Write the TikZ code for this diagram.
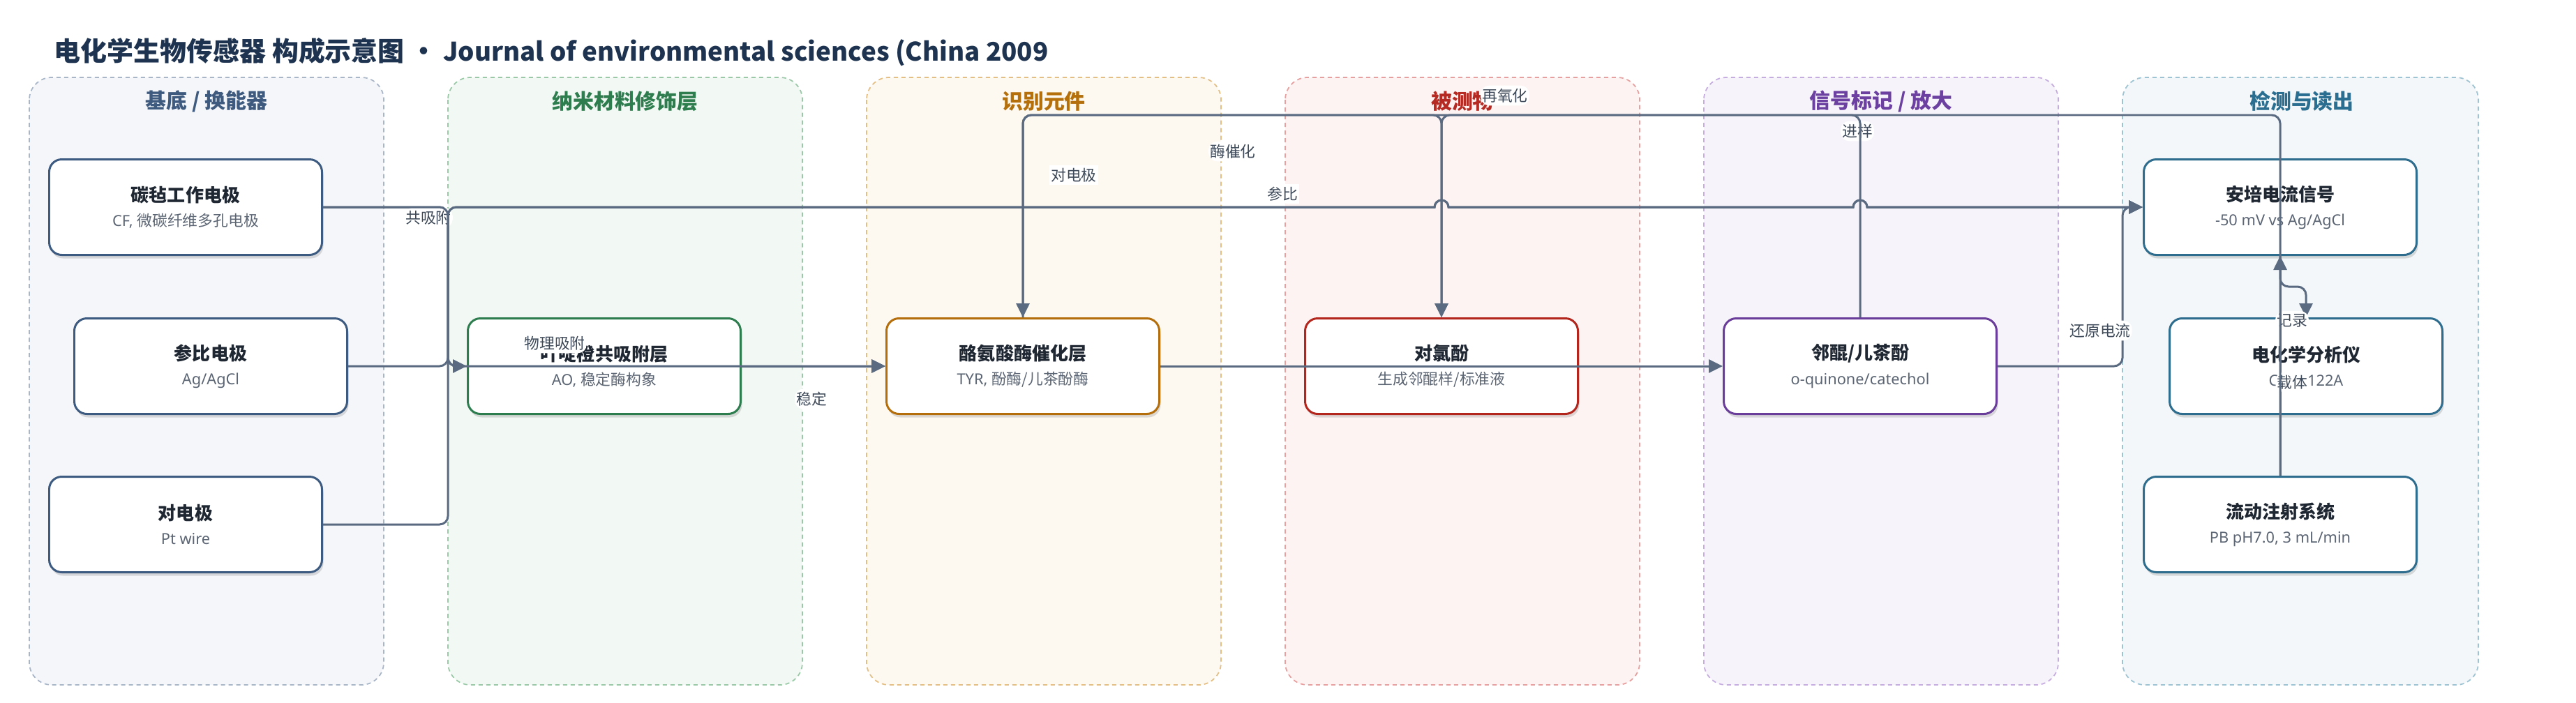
\documentclass[tikz,border=0pt]{standalone}
\usepackage{fontspec}
\setmainfont{Noto Sans CJK SC}
\newfontfamily\latf{Noto Sans}
\usetikzlibrary{arrows.meta,calc,shadows}

\definecolor{edgec}{HTML}{5A6A80}
\definecolor{lblc}{HTML}{3E4A59}
\definecolor{titlec}{HTML}{1E3350}
\definecolor{headc}{HTML}{1F2733}
\definecolor{subc}{HTML}{5B6573}
% panel colours
\definecolor{subFill}{HTML}{F4F6FA}  \definecolor{subLine}{HTML}{A9B6C8}  \definecolor{subText}{HTML}{3E5A7E}  \definecolor{subDk}{HTML}{3D5A80}
\definecolor{nanoFill}{HTML}{F2F8F4} \definecolor{nanoLine}{HTML}{9BC9A8} \definecolor{nanoText}{HTML}{2E7D4E} \definecolor{nanoDk}{HTML}{2E7D4F}
\definecolor{recFill}{HTML}{FDF8F0}  \definecolor{recLine}{HTML}{E3BF85}  \definecolor{recText}{HTML}{B5700C}  \definecolor{recDk}{HTML}{B46E0C}
\definecolor{anaFill}{HTML}{FDF3F2}  \definecolor{anaLine}{HTML}{E6A0A0}  \definecolor{anaText}{HTML}{B52A22}  \definecolor{anaDk}{HTML}{B3261E}
\definecolor{sigFill}{HTML}{F6F3FA}  \definecolor{sigLine}{HTML}{C6ADDF}  \definecolor{sigText}{HTML}{6B40A0}  \definecolor{sigDk}{HTML}{6A3D9A}
\definecolor{detFill}{HTML}{F3F7F9}  \definecolor{detLine}{HTML}{9EC3D2}  \definecolor{detText}{HTML}{2A6F91}  \definecolor{detDk}{HTML}{2E6D8E}

\tikzset{
  panel/.style={draw=#1Line, fill=#1Fill, line width=0.5pt, dash pattern=on 0.06cm off 0.05cm, rounded corners=0.32cm},
  head/.style={text=#1Text, font=\bfseries\fontsize{8.5pt}{10pt}\selectfont},
  box/.style={draw=#1, fill=white, line width=0.85pt, rounded corners=0.18cm,
    minimum width=3.91cm, minimum height=1.37cm, align=center, inner sep=0pt,
    text=headc, font=\fontsize{6.2pt}{10pt}\selectfont,
    drop shadow={shadow xshift=0.02cm, shadow yshift=-0.05cm, opacity=0.13, fill=black}},
  link/.style={draw=edgec, line width=0.85pt, rounded corners=0.12cm, -{Triangle[length=0.2cm,width=0.19cm]}},
  lbl/.style={fill=white, text=lblc, font=\fontsize{6.2pt}{7pt}\selectfont, inner xsep=0.6pt, inner ysep=1.2pt}
}
\newcommand{\bxt}[2]{{\bfseries\fontsize{7.4pt}{10pt}\selectfont #1}\\{\color{subc}#2}}

\begin{document}
\begin{tikzpicture}
  \useasboundingbox (0,0) rectangle (36.92,-10.07);
  % columns
  \draw[panel=sub]  (0.42,-1.11) rectangle (5.50,-9.82);
  \draw[panel=nano] (6.42,-1.11) rectangle (11.50,-9.82);
  \draw[panel=rec]  (12.42,-1.11) rectangle (17.50,-9.82);
  \draw[panel=ana]  (18.42,-1.11) rectangle (23.50,-9.82);
  \draw[panel=sig]  (24.42,-1.11) rectangle (29.50,-9.82);
  \draw[panel=det]  (30.42,-1.11) rectangle (35.52,-9.82);
  \node[head=sub]  (h-sub)  at (2.96,-1.45) {基底 / 换能器};
  \node[head=nano] (h-nano) at (8.96,-1.45) {纳米材料修饰层};
  \node[head=rec]  (h-rec)  at (14.96,-1.45) {识别元件};
  \node[head=ana]  (h-ana)  at (20.96,-1.45) {被测物};
  \node[head=sig]  (h-sig)  at (26.96,-1.45) {信号标记 / 放大};
  \node[head=det]  (h-det)  at (32.99,-1.45) {检测与读出};
  \node[anchor=west, inner sep=0pt, text=titlec, font=\bfseries\fontsize{10.8pt}{12pt}\selectfont] (title) at (0.77,-0.75)
    {电化学生物传感器 构成示意图 · {\fontsize{10.45pt}{12pt}\selectfont Journal of environmental sciences (China 2009}};

  % components
  \node[box=subDk]  (cf)  at (2.66,-2.97)  {\bxt{碳毡工作电极}{{\latf CF, }微碳纤维多孔电极}};
  \node[box=subDk]  (ref) at (3.02,-5.25)  {\bxt{参比电极}{\latf Ag/AgCl}};
  \node[box=subDk]  (ce)  at (2.66,-7.52)  {\bxt{对电极}{\latf Pt wire}};
  \node[box=nanoDk] (ao)  at (8.66,-5.25)  {\bxt{吖啶橙共吸附层}{{\latf AO, }稳定酶构象}};
  \node[box=recDk]  (tyr) at (14.66,-5.25) {\bxt{酪氨酸酶催化层}{{\latf TYR, }酚酶/儿茶酚酶}};
  \node[box=anaDk]  (pcp) at (20.66,-5.25) {\bxt{对氯酚}{生成邻醌样/标准液}};
  \node[box=sigDk]  (oq)  at (26.66,-5.25) {\bxt{邻醌/儿茶酚}{\latf o-quinone/catechol}};
  \node[box=detDk]  (amp) at (32.68,-2.97) {\bxt{安培电流信号}{\latf -50 mV vs Ag/AgCl}};
  \node[box=detDk]  (ele) at (33.05,-5.25) {\bxt{电化学分析仪}{\latf CHI 1122A}};
  \node[box=detDk]  (fia) at (32.68,-7.52) {\bxt{流动注射系统}{\latf PB pH7.0, 3 mL/min}};

  % routing helpers
  \coordinate (busL) at (6.42,0);
  \coordinate (busR) at (30.42,0);
  \coordinate (topY) at (0,-1.65);
  \coordinate (hopA) at ($(pcp.north |- amp.west)+(-0.1,0)$);
  \coordinate (hopB) at ($(oq.north |- amp.west)+(-0.1,0)$);
  \coordinate (recY) at ($(amp.south)!.5!(ele.north)$);

  % connections
  \draw[link] (cf.east) -| (busL |- ao.west) -- (ao.west) node[lbl] (l-coad) at (6.14,-3.12) {共吸附};
  \draw[link] (cf.east) -| (busL |- tyr.west) -- (tyr.west) node[lbl] (l-phys) at (7.95,-4.92) {物理吸附};
  \draw[link] (ref.east) -| (busL |- amp.west) [sharp corners] -- (hopA) arc[start angle=180, end angle=0, radius=0.1]
    -- (hopB) arc[start angle=180, end angle=0, radius=0.1] -- (amp.west) node[lbl] (l-ref) at (18.38,-2.78) {参比};
  \draw[link] (ce.east) -| (busL |- amp.west) [sharp corners] -- (hopA) arc[start angle=180, end angle=0, radius=0.1]
    -- (hopB) arc[start angle=180, end angle=0, radius=0.1] -- (amp.west) node[lbl] (l-ce) at (15.39,-2.51) {对电极};
  \draw[link] (ao.east) -- (tyr.west) node[lbl] (l-stab) at (11.63,-5.72) {稳定};
  \draw[link] (tyr.east) -- (oq.west);
  \draw[link] (tyr.north) |- (topY -| pcp.north) -- (pcp.north) node[lbl] (l-cat) at (17.67,-2.17) {酶催化};
  \draw[link] (oq.east) -| (busR |- amp.west) -- (amp.west) node[lbl] (l-red) at (30.10,-4.74) {还原电流};
  \draw[link] (amp.south) -- (amp.south |- recY) -- (ele.north |- recY) -- (ele.north) node[lbl] (l-rec) at (32.85,-4.60) {记录};
  \draw[link] (fia.north) -- (amp.south) node[lbl] (l-car) at (32.85,-5.48) {载体};
  \draw[link] (fia.north) |- (topY -| pcp.north) -- (pcp.north) node[lbl] (l-inj) at (26.62,-1.88) {进样};
  \draw[link] (oq.north) |- (topY -| tyr.north) -- (tyr.north) node[lbl] (l-reox) at (21.57,-1.37) {再氧化};
\end{tikzpicture}
\end{document}
